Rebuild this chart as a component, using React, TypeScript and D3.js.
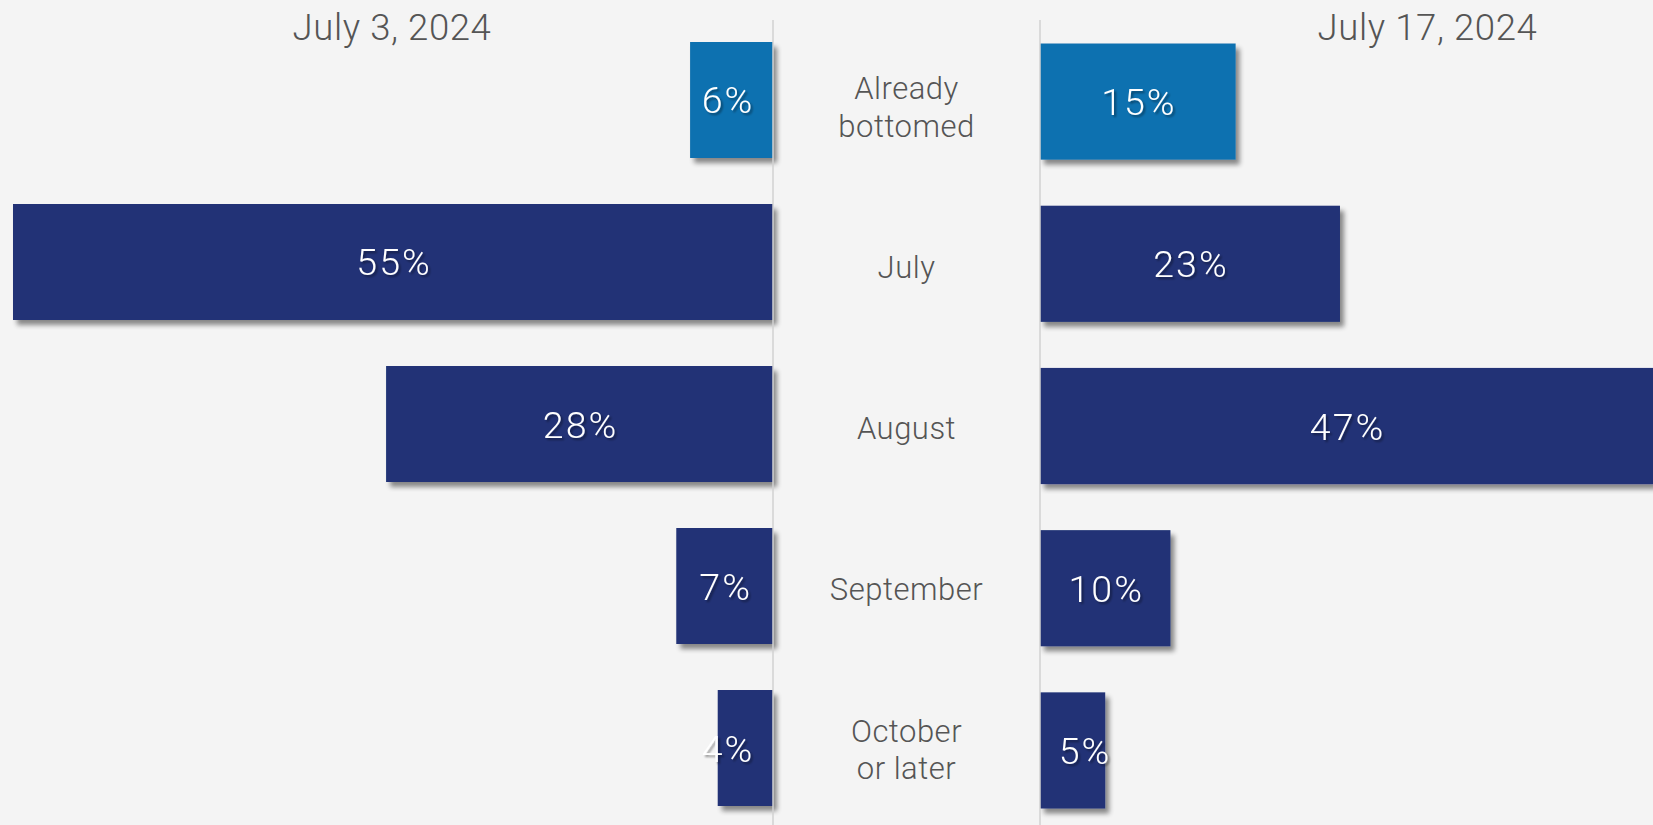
import React from "react";
import * as d3 from "d3";

const categories = ["Already bottomed", "July", "August", "September", "October or later"];
const categoryLines = [["Already", "bottomed"], ["July"], ["August"], ["September"], ["October", "or later"]];
const july3Values = [6, 55, 28, 7, 4];
const july17Values = [15, 23, 47, 10, 5];
const highlight = [true, false, false, false, false];
const panelTitles = ["July 3, 2024", "July 17, 2024"];

const W = 1653;
const H = 825;
const BG = "#f4f4f4";
const BLUE = "#1071b0";
const NAVY = "#203376";
const TEXT = "#555555";
const FONT = "'Helvetica Neue', Roboto, 'Liberation Sans', Arial, sans-serif";

export default function App() {
  const leftAxis = 773;
  const rightAxis = 1040;
  const xLeft = d3.scaleLinear().domain([0, 55]).range([leftAxis, 13]);
  const xRight = d3.scaleLinear().domain([0, 47]).range([rightAxis, W]);
  const yLeft = d3.scaleBand<string>().domain(categories).range([42, 806]).paddingInner(0.284).paddingOuter(0);
  const yRight = d3.scaleBand<string>().domain(categories).range([43.5, 808.5]).paddingInner(0.284).paddingOuter(0);
  const yLabel = d3.scalePoint<string>().domain(categories).range([106.8, 749.5]);
  const centerX = (leftAxis + rightAxis) / 2;
  const lineH = 37.5;

  const valueStyle = {
    fill: "#ffffff",
    fontFamily: FONT,
    fontWeight: 300,
    fontSize: 37.5,
    letterSpacing: "2px",
  } as React.CSSProperties;

  return (
    <div style={{ position: "absolute", left: 0, top: 0, width: W, height: H, background: BG }}>
      <svg width={W} height={H} style={{ display: "block" }}>
        <defs>
          <filter id="barShadow" x="-20%" y="-20%" width="150%" height="150%">
            <feGaussianBlur in="SourceAlpha" stdDeviation="2.5" />
            <feOffset dx="4" dy="5" result="off" />
            <feComponentTransfer>
              <feFuncA type="linear" slope="0.45" />
            </feComponentTransfer>
            <feMerge>
              <feMergeNode />
              <feMergeNode in="SourceGraphic" />
            </feMerge>
          </filter>
          <filter id="textShadow" x="-20%" y="-20%" width="150%" height="150%">
            <feGaussianBlur in="SourceAlpha" stdDeviation="1" />
            <feOffset dx="1.5" dy="1.5" result="off" />
            <feComponentTransfer>
              <feFuncA type="linear" slope="0.4" />
            </feComponentTransfer>
            <feMerge>
              <feMergeNode />
              <feMergeNode in="SourceGraphic" />
            </feMerge>
          </filter>
        </defs>
        <rect x={0} y={0} width={W} height={H} fill={BG} />

        {/* bars */}
        {categories.map((c, i) => (
          <rect
            key={"l" + c}
            x={xLeft(july3Values[i])}
            y={yLeft(c)}
            width={leftAxis - xLeft(july3Values[i])}
            height={yLeft.bandwidth()}
            fill={highlight[i] ? BLUE : NAVY}
            filter="url(#barShadow)"
          />
        ))}
        {categories.map((c, i) => (
          <rect
            key={"r" + c}
            x={rightAxis}
            y={yRight(c)}
            width={xRight(july17Values[i]) - rightAxis}
            height={yRight.bandwidth()}
            fill={highlight[i] ? BLUE : NAVY}
            filter="url(#barShadow)"
          />
        ))}

        {/* axis lines */}
        <line x1={leftAxis} x2={leftAxis} y1={20} y2={H} stroke="#d2d2d2" strokeWidth={1.5} />
        <line x1={rightAxis} x2={rightAxis} y1={20} y2={H} stroke="#d2d2d2" strokeWidth={1.5} />

        {/* value labels */}
        {categories.map((c, i) => {
          const mid = (xLeft(july3Values[i]) + leftAxis) / 2;
          const cx = Math.min(mid, leftAxis - 46) + 1;
          return (
            <text
              key={"lv" + c}
              x={cx}
              y={(yLeft(c) as number) + yLeft.bandwidth() / 2 + 13.5}
              textAnchor="middle"
              style={valueStyle}
              filter="url(#textShadow)"
            >
              {july3Values[i]}%
            </text>
          );
        })}
        {categories.map((c, i) => {
          const mid = (xRight(july17Values[i]) + rightAxis) / 2;
          const cx = Math.max(mid, rightAxis + 44) + 1;
          return (
            <text
              key={"rv" + c}
              x={cx}
              y={(yRight(c) as number) + yRight.bandwidth() / 2 + 13.5}
              textAnchor="middle"
              style={valueStyle}
              filter="url(#textShadow)"
            >
              {july17Values[i]}%
            </text>
          );
        })}

        {/* category labels */}
        {categories.map((c, i) => {
          const lines = categoryLines[i];
          const mid = yLabel(c) as number;
          const startY = mid + 11 - ((lines.length - 1) * lineH) / 2;
          return (
            <text
              key={"c" + c}
              x={centerX}
              y={startY}
              textAnchor="middle"
              fill={TEXT}
              fontFamily={FONT}
              fontWeight={300}
              fontSize={31}
              style={{ letterSpacing: "0.5px" }}
            >
              {lines.map((ln, j) => (
                <tspan key={j} x={centerX} dy={j === 0 ? 0 : lineH}>
                  {ln}
                </tspan>
              ))}
            </text>
          );
        })}

        {/* panel titles */}
        <text x={392} y={39.5} textAnchor="middle" fill={TEXT} fontFamily={FONT} fontWeight={300} fontSize={36.5} style={{ letterSpacing: "0.6px" }}>
          {panelTitles[0]}
        </text>
        <text x={1427.5} y={39.5} textAnchor="middle" fill={TEXT} fontFamily={FONT} fontWeight={300} fontSize={36.5} style={{ letterSpacing: "0.6px" }}>
          {panelTitles[1]}
        </text>
      </svg>
    </div>
  );
}
